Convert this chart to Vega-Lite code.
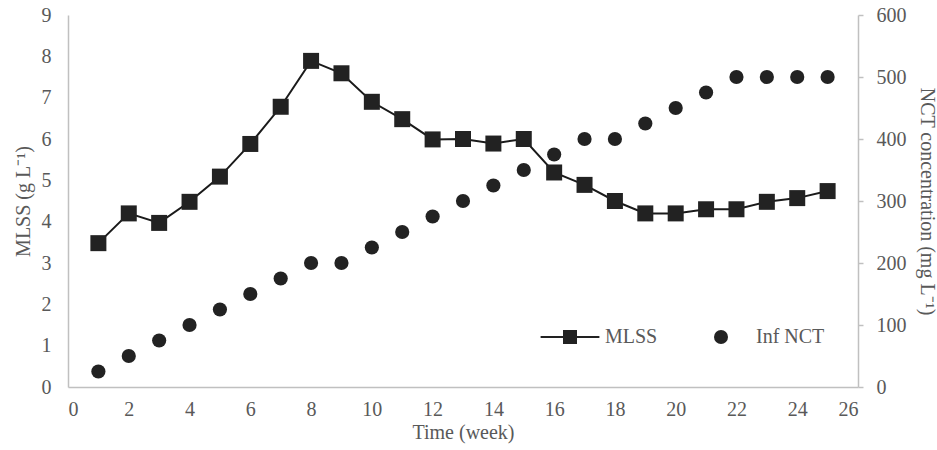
{
  "$schema": "https://vega.github.io/schema/vega-lite/v6.json",
  "width": 790,
  "height": 372,
  "autosize": "none",
  "padding": {"left": 68, "top": 15, "right": 79, "bottom": 63},
  "background": "white",
  "config": {
    "font": "Liberation Serif",
    "view": {"stroke": null},
    "axis": {
      "labelFont": "Liberation Serif",
      "titleFont": "Liberation Serif",
      "labelFontSize": 20,
      "titleFontSize": 20,
      "titleFontWeight": "normal",
      "labelColor": "#595959",
      "titleColor": "#595959",
      "domainColor": "#c0c0c0",
      "domainWidth": 1.5,
      "tickColor": "#c0c0c0",
      "tickWidth": 1.5,
      "grid": false
    },
    "legend": {
      "labelFont": "Liberation Serif",
      "labelFontSize": 20,
      "labelColor": "#595959"
    }
  },
  "data": {
    "values": [
      {"week": 1, "MLSS": 3.48, "NCT": 25},
      {"week": 2, "MLSS": 4.2, "NCT": 50},
      {"week": 3, "MLSS": 3.97, "NCT": 75},
      {"week": 4, "MLSS": 4.48, "NCT": 100},
      {"week": 5, "MLSS": 5.09, "NCT": 125},
      {"week": 6, "MLSS": 5.88, "NCT": 150},
      {"week": 7, "MLSS": 6.78, "NCT": 175},
      {"week": 8, "MLSS": 7.89, "NCT": 200},
      {"week": 9, "MLSS": 7.59, "NCT": 200},
      {"week": 10, "MLSS": 6.9, "NCT": 225},
      {"week": 11, "MLSS": 6.48, "NCT": 250},
      {"week": 12, "MLSS": 5.99, "NCT": 275},
      {"week": 13, "MLSS": 6.0, "NCT": 300},
      {"week": 14, "MLSS": 5.89, "NCT": 325},
      {"week": 15, "MLSS": 6.0, "NCT": 350},
      {"week": 16, "MLSS": 5.19, "NCT": 375},
      {"week": 17, "MLSS": 4.89, "NCT": 400},
      {"week": 18, "MLSS": 4.5, "NCT": 400},
      {"week": 19, "MLSS": 4.2, "NCT": 425},
      {"week": 20, "MLSS": 4.2, "NCT": 450},
      {"week": 21, "MLSS": 4.3, "NCT": 475},
      {"week": 22, "MLSS": 4.3, "NCT": 500},
      {"week": 23, "MLSS": 4.48, "NCT": 500},
      {"week": 24, "MLSS": 4.57, "NCT": 500},
      {"week": 25, "MLSS": 4.74, "NCT": 500}
    ]
  },
  "encoding": {
    "x": {
      "field": "week",
      "type": "quantitative",
      "scale": {"domain": [0, 26], "nice": false},
      "axis": {
        "values": [0, 2, 4, 6, 8, 10, 12, 14, 16, 18, 20, 22, 24, 26],
        "ticks": false,
        "tickSize": 0,
        "labelPadding": 12,
        "title": "Time (week)",
        "titlePadding": 3
      }
    }
  },
  "layer": [
    {
      "encoding": {
        "y": {
          "field": "MLSS",
          "type": "quantitative",
          "scale": {"domain": [0, 9], "nice": false},
          "axis": {
            "orient": "left",
            "values": [0, 1, 2, 3, 4, 5, 6, 7, 8, 9],
            "ticks": false,
            "tickSize": 0,
            "labelPadding": 17,
            "title": "MLSS (g L⁻¹)",
            "titlePadding": 8
          }
        }
      },
      "layer": [
        {"mark": {"type": "line", "color": "#1a1a1a", "strokeWidth": 2}},
        {
          "mark": {"type": "point", "shape": "square", "filled": true, "size": 256, "color": "#222222", "opacity": 1}
        }
      ]
    },
    {
      "mark": {"type": "point", "filled": true, "size": 201, "color": "#222222", "opacity": 1},
      "encoding": {
        "y": {
          "field": "NCT",
          "type": "quantitative",
          "scale": {"domain": [0, 600], "nice": false},
          "axis": {
            "orient": "right",
            "values": [0, 100, 200, 300, 400, 500, 600],
            "ticks": true,
            "tickSize": 5,
            "labelPadding": 13,
            "title": "NCT concentration (mg L⁻¹)",
            "titlePadding": 10
          }
        },
        "shape": {
          "datum": "Inf NCT",
          "scale": {"domain": ["MLSS", "Inf NCT"], "range": ["M-4.2,-0.13H4.2V0.13H-4.2Z M-1,-1H1V1H-1Z", "circle"]},
          "legend": {
            "title": null,
            "orient": "none",
            "legendX": 492,
            "legendY": 312,
            "direction": "horizontal",
            "symbolSize": 196,
            "symbolFillColor": "#222222",
            "symbolStrokeColor": "#222222",
            "symbolStrokeWidth": 0,
            "symbolOpacity": 1,
            "labelOffset": 25,
            "columnPadding": 53,
            "padding": 0
          }
        }
      }
    }
  ],
  "resolve": {"scale": {"y": "independent"}}
}
